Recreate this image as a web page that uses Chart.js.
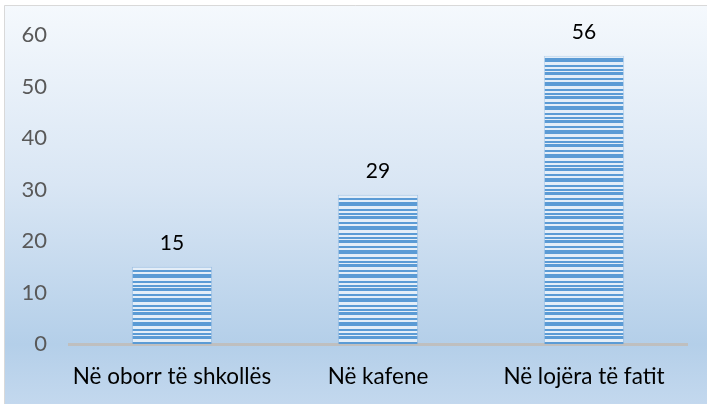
<!DOCTYPE html>
<html>
<head>
<meta charset="utf-8">
<script src="https://cdn.jsdelivr.net/npm/chart.js@4/dist/chart.umd.min.js"></script>
<style>
  html, body { margin: 0; padding: 0; background: #fff; }
  #wrap { width: 707px; height: 404px; }
</style>
</head>
<body>
<div id="wrap"><canvas id="myChart" width="707" height="404"></canvas></div>
<script>
const categories = ["Në oborr të shkollës", "Në kafene", "Në lojëra të fatit"];
const values = [15, 29, 56];
const yTicks = [0, 10, 20, 30, 40, 50, 60];

const FONT = "Lato, 'Noto Sans', sans-serif";

// horizontal stripes like the office "stripes" fill
function makeStripes() {
  const c = document.createElement("canvas");
  c.width = 8;
  c.height = 24;
  const g = c.getContext("2d");
  g.fillStyle = "#e4eef8";
  g.fillRect(0, 0, 8, 24);
  g.fillStyle = "#5b9bd5";
  const bands = [[0, 3], [6, 2], [10, 4], [17, 2], [21, 2]];
  bands.forEach(([y, h]) => g.fillRect(0, y, 8, h));
  return g.createPattern(c, "repeat");
}

const backgroundPlugin = {
  id: "panelBg",
  beforeDraw(chart) {
    const c = chart.ctx;
    const w = chart.width, h = chart.height;
    c.save();
    const grad = c.createLinearGradient(0, 5, 0, h);
    grad.addColorStop(0, "#f5f9fd");
    grad.addColorStop(0.45, "#d9e6f4");
    grad.addColorStop(0.85, "#b4cfe9");
    grad.addColorStop(1, "#c3d8ee");
    c.fillStyle = grad;
    c.fillRect(4, 5, w - 4, h - 5);
    c.strokeStyle = "#d9d9d9";
    c.lineWidth = 1;
    c.beginPath();
    c.moveTo(4.5, h);
    c.lineTo(4.5, 5.5);
    c.lineTo(w, 5.5);
    c.stroke();
    c.restore();
  },
};

const valueLabels = {
  id: "valueLabels",
  afterDatasetsDraw(chart) {
    const c = chart.ctx;
    const meta = chart.getDatasetMeta(0);
    c.save();
    c.font = "21px " + FONT;
    c.fillStyle = "#000";
    c.textAlign = "center";
    c.textBaseline = "alphabetic";
    meta.data.forEach((bar, i) => {
      c.fillText(String(values[i]), bar.x, bar.y - 17);
    });
    c.restore();
  },
};

const ctx = document.getElementById("myChart");

new Chart(ctx, {
  type: "bar",
  data: {
    labels: categories,
    datasets: [
      {
        data: values,
        backgroundColor: makeStripes(),
        borderColor: "rgba(91,155,213,0.35)",
        borderWidth: 1,
        barPercentage: 0.39,
        categoryPercentage: 1,
      },
    ],
  },
  options: {
    responsive: false,
    animation: false,
    events: [],
    layout: { padding: { top: 34, right: 20, left: 0, bottom: 0 } },
    plugins: {
      legend: { display: false },
      tooltip: { enabled: false },
    },
    scales: {
      y: {
        min: 0,
        max: 60,
        afterBuildTicks: (axis) => {
          axis.ticks = yTicks.map((v) => ({ value: v }));
        },
        afterFit: (axis) => {
          axis.width = 69;
        },
        grid: { display: false, drawTicks: false },
        border: { display: false },
        ticks: {
          padding: 22,
          color: "#595959",
          font: { family: FONT, size: 22 },
        },
      },
      x: {
        afterFit: (axis) => {
          axis.height = 60;
        },
        grid: { display: false, drawTicks: false },
        border: { display: true, color: "#bfbfbf", width: 3 },
        ticks: {
          padding: 19,
          color: "#000",
          font: { family: FONT, size: 22.5 },
          maxRotation: 0,
        },
      },
    },
  },
  plugins: [backgroundPlugin, valueLabels],
});
</script>
</body>
</html>
